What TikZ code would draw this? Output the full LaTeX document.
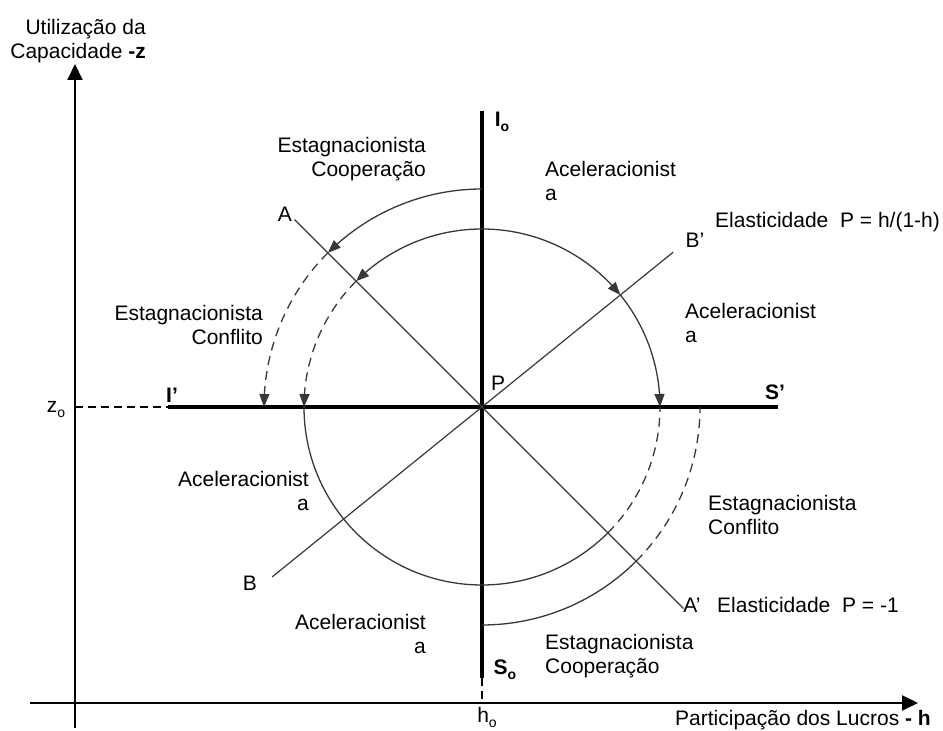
\documentclass[tikz,border=0pt]{standalone}
\usepackage{fontspec}
\setmainfont{Liberation Sans}
\usetikzlibrary{arrows.meta,bending,calc,positioning}
\definecolor{arcgray}{rgb}{0.22,0.22,0.22}

\newcommand{\lowsub}[1]{\raisebox{-0.45ex}{\fontsize{14}{14}\selectfont #1}}

\begin{document}
\begin{tikzpicture}[x=1pt,y=1pt,
    txt/.style={font=\fontsize{21}{24}\selectfont, inner sep=0pt},
    boldtxt/.style={font=\fontsize{21}{24}\selectfont\bfseries, inner sep=0pt},
    cross/.style={line width=4pt},
    thinline/.style={line width=1.2pt, arcgray},
    arcline/.style={line width=1.3pt, arcgray},
    dasharc/.style={arcline, dash pattern=on 9pt off 6pt},
    guide/.style={line width=1.3pt, dash pattern=on 8pt off 5pt},
    tip/.style={-{Triangle[length=13pt,width=10pt]}},
    axis/.style={line width=2pt, -{Triangle[length=16pt,width=15pt]}}]
  \useasboundingbox (0,0) rectangle (943,731);

  % Axes
  \coordinate (ybot) at (75,3);
  \coordinate (ytop) at (75,667);
  \coordinate (xleft) at (30,28);
  \coordinate (xright) at (918,28);
  \draw[axis] (ybot) -- (ytop);
  \draw[axis] (xleft) -- (xright);
  \node[txt, align=right, anchor=east] (ylab) at (146,690) {Utilização da\\Capacidade \textbf{-z}};
  \node[txt, anchor=east] (xlab) at (931,11) {Participação dos Lucros \textbf{- h}};

  % Cross through P
  \coordinate (P) at (482,324);
  \coordinate (Itop) at (482,620);
  \coordinate (Sbot) at (482,53);
  \coordinate (Ileft) at (168,324);
  \coordinate (Sright) at (778,324);
  \coordinate (zmark) at (75,324);
  \coordinate (hmark) at (482,28);
  \draw[cross] (Itop) -- (Sbot);
  \draw[cross] (Ileft) -- (Sright);
  \draw[guide] (zmark) -- (Ileft);
  \draw[guide] (Sbot) -- (hmark);
  \node[txt] (zo) at (56,321) {z\lowsub{o}};
  \node[txt] (ho) at (487,14) {h\lowsub{o}};
  \node[boldtxt] (Io) at (502,609) {I\lowsub{o}};
  \node[boldtxt] (So) at (505,61) {S\lowsub{o}};
  \node[boldtxt] (Ip) at (172,336) {I’};
  \node[boldtxt] (Sp) at (775,339) {S’};
  \node[txt] (labP) at (498,348) {P};

  % Elasticity lines
  \coordinate (Aend) at ($(P)+(135:265)$);
  \coordinate (Apend) at ($(P)+(-45:285)$);
  \coordinate (Bend) at ($(P)+(219:270)$);
  \coordinate (Bpend) at ($(P)+(39:246)$);
  \draw[thinline] (Aend) -- (Apend);
  \draw[thinline] (Bend) -- (Bpend);
  \node[txt] (labA) at (285,517) {A};
  \node[txt] (labAp) at (692,126) {A’};
  \node[txt] (labB) at (250,148) {B};
  \node[txt] (labBp) at (695,491) {B’};
  \node[txt, anchor=west] (elasB) at (715,509) {Elasticidade\ \ P = h/(1-h)};
  \node[txt, anchor=west] (elasA) at (717,126) {Elasticidade\ \ P = -1};

  % Inner circle
  \draw[arcline, tip] ($(P)+(90:178)$) arc[start angle=90, end angle=135, radius=178];
  \draw[dasharc, tip] ($(P)+(135:178)$) arc[start angle=135, end angle=180, radius=178];
  \draw[arcline, tip] ($(P)+(90:178)$) arc[start angle=90, end angle=39, radius=178];
  \draw[arcline, tip] ($(P)+(39:178)$) arc[start angle=39, end angle=0, radius=178];
  \draw[arcline] ($(P)+(180:178)$) arc[start angle=180, end angle=315, radius=178];
  \draw[dasharc] ($(P)+(315:178)$) arc[start angle=315, end angle=360, radius=178];

  % Outer arcs
  \draw[arcline, tip] ($(P)+(90:218)$) arc[start angle=90, end angle=135, radius=218];
  \draw[dasharc, tip] ($(P)+(135:218)$) arc[start angle=135, end angle=180, radius=218];
  \draw[arcline] ($(P)+(270:218)$) arc[start angle=270, end angle=315, radius=218];
  \draw[dasharc] ($(P)+(315:218)$) arc[start angle=315, end angle=360, radius=218];

  % Regions
  \node[txt, align=right, anchor=east] (estcoopU) at (426,572) {Estagnacionista\\Cooperação};
  \node[txt, align=left, anchor=west] (acelUR) at (545,550) {Aceleracionist\\a};
  \node[txt, align=left, anchor=west] (acelR) at (685,408) {Aceleracionist\\a};
  \node[txt, align=right, anchor=east] (estconfL) at (263,406) {Estagnacionista\\Conflito};
  \node[txt, align=right, anchor=east] (acelL) at (309,240) {Aceleracionist\\a};
  \node[txt, align=right, anchor=east] (acelD) at (426,97) {Aceleracionist\\a};
  \node[txt, align=left, anchor=west] (estconfR) at (708,216) {Estagnacionista\\Conflito};
  \node[txt, align=left, anchor=west] (estcoopD) at (545,75) {Estagnacionista\\Cooperação};
\end{tikzpicture}
\end{document}
